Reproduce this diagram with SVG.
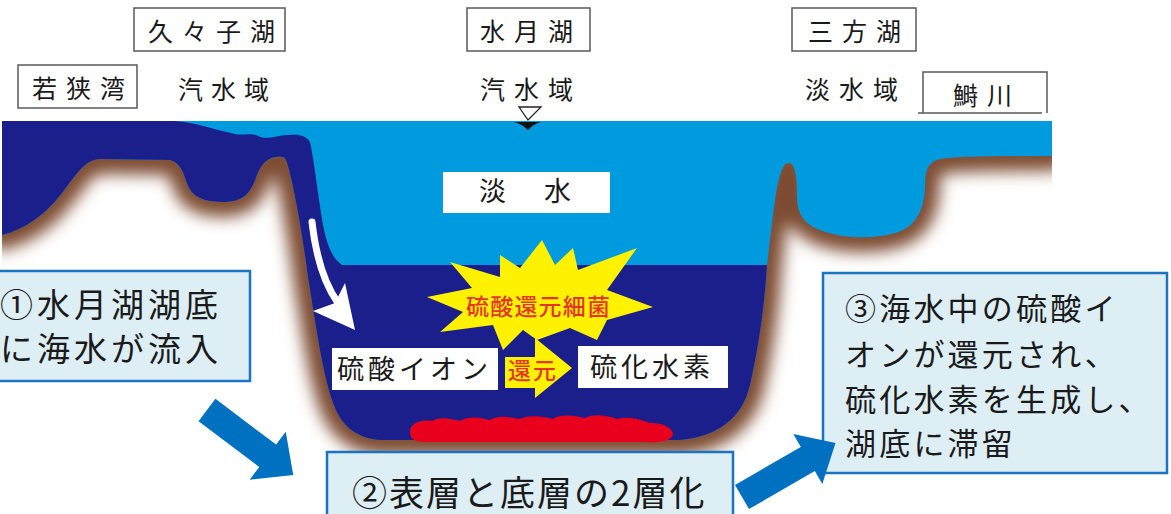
<svg xmlns="http://www.w3.org/2000/svg" width="1171" height="514" viewBox="0 0 1171 514">
  <style>
    .jp { font-family: "Noto Sans CJK JP", "Noto Sans", sans-serif; fill: #1a1a1a; }
    .lbl { font-size: 25px; }
    .tag { fill: #ffffff; stroke: #5a5a5a; stroke-width: 1.5; }
    .note { fill: #ddeef5; stroke: #1a74c1; stroke-width: 2.5; }
    .red { fill: #e5352a; font-weight: 500; }
    .flow { fill: #0070c0; }
  </style>
  <defs>
    <clipPath id="groundClip">
      <rect x="2" y="123" width="1050" height="400"/>
    </clipPath>
    <filter id="soft" x="-10%" y="-20%" width="120%" height="140%">
      <feGaussianBlur stdDeviation="8"/>
    </filter>
    <path id="water" d="M2,121 L1052,121 L1052,156 C1000,156 960,156 940,159 C928,162 925,170 925,185 C925,210 915,228 895,233 C870,240 840,238 820,230 C802,223 797,212 797,195 C797,180 796,166 790,163 C783,161 779,175 775,200 C771,230 769,250 767,265 C765,300 760,340 750,385 C742,420 715,437 680,440 L380,440 C355,438 340,425 332,400 C322,370 315,320 308,277 C303,240 298,210 292,182 C289,170 287,158 283,157 C270,155 262,162 257,175 C251,192 245,201 225,202 C205,202 195,198 189,188 C184,176 182,163 170,160 L100,159 C85,160 78,172 62,193 C45,215 25,229 2,235 Z"/>
  </defs>

  <rect width="1171" height="514" fill="#ffffff"/>

  <!-- cross-section: ground shading, fresh water, sea water -->
  <g id="section">
    <g clip-path="url(#groundClip)">
      <use href="#water" fill="none" stroke="#7d4c30" stroke-width="30" stroke-linejoin="round" filter="url(#soft)"/>
    </g>
    <use href="#water" fill="#009bdf"/>
    <path d="M2,121 L175,121 C195,122 215,130 235,134 C245,136 250,132 258,136 C268,141 278,134 290,135 C300,134 306,136 310,142 C314,160 318,195 323,225 C327,245 332,258 342,265 L767,265 C765,300 760,340 750,385 C742,420 715,437 680,440 L380,440 C355,438 340,425 332,400 C322,370 315,320 308,277 C303,240 298,210 292,182 C289,170 287,158 283,157 C270,155 262,162 257,175 C251,192 245,201 225,202 C205,202 195,198 189,188 C184,176 182,163 170,160 L100,159 C85,160 78,172 62,193 C45,215 25,229 2,235 Z" fill="#1b1f8c"/>
    <!-- sediment on the lake floor -->
    <path d="M410,433 C409,424 420,419 432,421 C440,416 452,419 460,421 C470,415 482,418 490,420 C500,414 512,418 520,419 C530,414 545,417 553,419 C562,413 575,416 585,418 C595,413 608,416 617,419 C628,416 640,419 650,423 C662,422 673,428 673,434 C672,441 660,443 645,442 L425,442 C414,442 410,438 410,433 Z" fill="#e8001c"/>
    <!-- water level mark -->
    <path d="M519,107 L541,107 L528,120 Z" fill="#ffffff" stroke="#222222" stroke-width="1.3"/>
    <path d="M514,122 L541,122 Q533,124 528,130 Q522,124 514,122 Z" fill="#111111"/>
  </g>

  <!-- sea water inflow -->
  <g id="inflow">
    <path d="M312,222 Q318,275 338,303" fill="none" stroke="#ffffff" stroke-width="7" stroke-linecap="round"/>
    <path d="M313,311 L335,303 L345,283 L355,330 Z" fill="#ffffff"/>
  </g>

  <!-- place labels -->
  <g id="kugushi">
    <rect class="tag" x="134" y="8" width="151" height="43"/>
    <text class="jp lbl" x="148" y="41" letter-spacing="9">久々子湖</text>
  </g>
  <g id="suigetsu">
    <rect class="tag" x="467" y="8" width="123" height="43"/>
    <text class="jp lbl" x="480" y="41" letter-spacing="9">水月湖</text>
  </g>
  <g id="mikata">
    <rect class="tag" x="792" y="8" width="124" height="43"/>
    <text class="jp lbl" x="808" y="41" letter-spacing="9">三方湖</text>
  </g>
  <g id="wakasa">
    <rect class="tag" x="18" y="65" width="119" height="43"/>
    <text class="jp lbl" x="32" y="98" letter-spacing="9">若狭湾</text>
  </g>
  <g id="hasu">
    <path d="M923,113 L923,72 L1047,72 L1047,113 M918,113 L1042,113" fill="none" stroke="#5a5a5a" stroke-width="1.5"/>
    <text class="jp lbl" x="953" y="105" letter-spacing="9">鰣川</text>
  </g>
  <g id="zones">
    <text class="jp lbl" x="178" y="99" letter-spacing="8">汽水域</text>
    <text class="jp lbl" x="480" y="99" letter-spacing="9">汽水域</text>
    <text class="jp lbl" x="805" y="99" letter-spacing="9">淡水域</text>
  </g>
  <g id="freshwater">
    <rect x="443" y="172" width="167" height="41" fill="#ffffff"/>
    <text class="jp" font-size="27" x="479" y="201">淡</text>
    <text class="jp" font-size="27" x="544" y="201">水</text>
  </g>

  <!-- reduction reaction -->
  <g id="bacteria">
    <polygon points="427,297 472,288 450,262 500,277 500,255 520,268 542,240 555,265 573,248 578,270 637,248 607,290 653,307 607,320 597,340 570,328 537,340 523,330 503,350 493,325 440,332 463,312" fill="#fff200"/>
    <text class="jp red" font-size="23" x="466" y="315" letter-spacing="1.2">硫酸還元細菌</text>
  </g>
  <g id="reduce">
    <polygon points="505,357 535,357 535,338 572,368 535,398 535,388 505,388" fill="#fff200"/>
    <text class="jp red" font-size="23" x="508" y="379" letter-spacing="2" font-weight="700">還元</text>
  </g>
  <g id="sulfate">
    <rect x="332" y="348" width="166" height="42" fill="#ffffff"/>
    <text class="jp" font-size="27" x="337" y="379" letter-spacing="4">硫酸イオン</text>
  </g>
  <g id="sulfide">
    <rect x="578" y="346" width="150" height="42" fill="#ffffff"/>
    <text class="jp" font-size="27" x="590" y="377" letter-spacing="4">硫化水素</text>
  </g>

  <!-- explanation notes -->
  <g id="note1">
    <rect class="note" x="-2" y="271" width="252" height="110"/>
    <text class="jp" font-size="33" x="0" y="317" letter-spacing="4">①水月湖湖底</text>
    <text class="jp" font-size="33" x="0" y="361" letter-spacing="4">に海水が流入</text>
  </g>
  <g id="note2">
    <rect class="note" x="327" y="452" width="406" height="70"/>
    <text class="jp" font-size="35" x="352" y="506" letter-spacing="2">②表層と底層の2層化</text>
  </g>
  <g id="note3">
    <rect class="note" x="823" y="273" width="344" height="200"/>
    <text class="jp" font-size="31" x="845" y="320" letter-spacing="3.2">③海水中の硫酸イ</text>
    <text class="jp" font-size="31" x="845" y="366" letter-spacing="3.2">オンが還元され、</text>
    <text class="jp" font-size="31" x="845" y="411" letter-spacing="3.2">硫化水素を生成し、</text>
    <text class="jp" font-size="31" x="845" y="455" letter-spacing="3.2">湖底に滞留</text>
  </g>

  <!-- step arrows -->
  <g id="connectors">
    <polygon class="flow" points="0,-14 76,-14 76,-30 108,0 76,30 76,14 0,14" transform="translate(207,410) rotate(37)"/>
    <polygon class="flow" points="0,-14 76,-14 76,-29 108,0 76,29 76,14 0,14" transform="translate(742,497) rotate(-30)"/>
  </g>
</svg>
